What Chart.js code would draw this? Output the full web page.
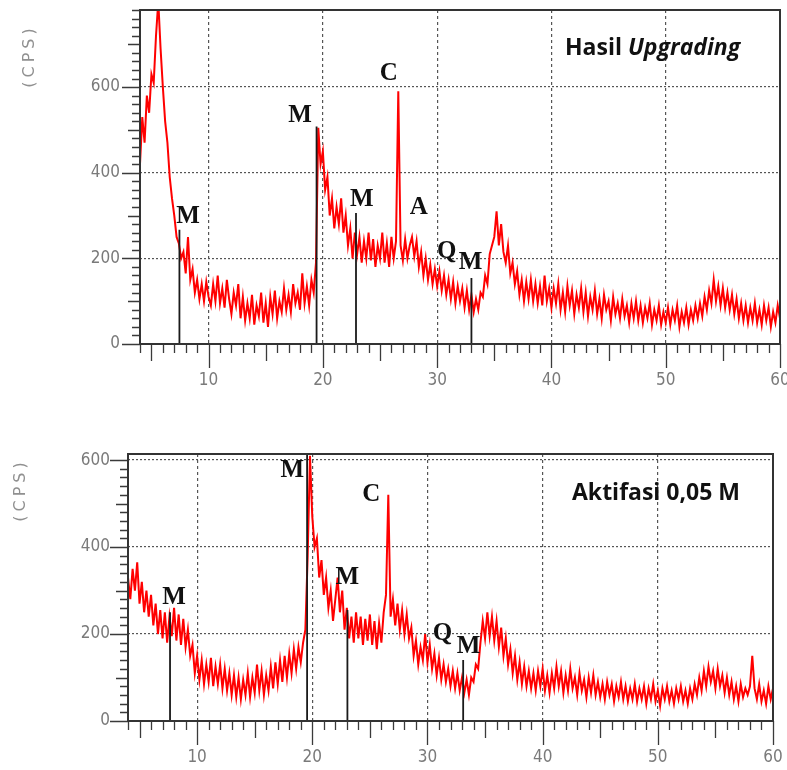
<!DOCTYPE html>
<html>
<head>
<meta charset="utf-8">
<script src="https://cdn.jsdelivr.net/npm/chart.js@4.4.1/dist/chart.umd.min.js"></script>
<style>
  body { margin: 0; background: #fff; }
  canvas { display: block; }
</style>
</head>
<body>
<canvas id="grafikAtas" width="787" height="400"></canvas>
<canvas id="grafikBawah" width="787" height="370"></canvas>
<script>
// sudut 2-theta hasil scan, langkah 0.2 derajat dari 4 sampai 60
const duaTheta = [];
for (let i = 0; i <= 280; i++) duaTheta.push(Math.round((4 + i * 0.2) * 10) / 10);

// intensitas (CPS), 5 titik per derajat
const cpsUpgrading = [
  420, 530, 470, 580, 540,  630, 610, 720, 800, 690,  600, 520, 470, 390, 340,
  300, 250, 235, 200, 215,  165, 250, 150, 175, 120,  150, 105, 140, 100, 145,
  110, 90, 140, 100, 160,   95, 130, 85, 150, 105,    70, 120, 90, 140, 60,
  110, 55, 95, 60, 115,     45, 90, 65, 120, 50,      95, 40, 110, 70, 125,
  60, 100, 75, 130, 80,     115, 75, 140, 95, 120,    80, 165, 95, 135, 90,
  150, 120, 190, 505, 420,  450, 360, 390, 300, 340,  270, 320, 280, 340, 260,
  300, 230, 270, 200, 260,  210, 250, 190, 240, 200,  260, 195, 245, 180, 230,
  200, 260, 190, 235, 180,  250, 200, 240, 590, 230,  195, 245, 200, 230, 250,
  205, 240, 180, 215, 160,  200, 150, 185, 140, 175,  135, 170, 125, 160, 115,
  150, 105, 145, 95, 135,   100, 130, 85, 125, 80,    115, 75, 105, 80, 120,
  110, 160, 140, 210, 230,  250, 310, 230, 280, 215,  190, 230, 165, 190, 140,
  170, 115, 150, 100, 145,  105, 150, 100, 140, 95,   135, 90, 160, 100, 130,
  85, 130, 95, 140, 80,     120, 75, 135, 90, 125,    70, 115, 85, 130, 75,
  120, 65, 110, 80, 125,    70, 105, 60, 115, 80,     100, 55, 110, 70, 95,
  60, 105, 65, 90, 50,      95, 60, 100, 55, 90,      50, 85, 60, 95, 45,
  80, 55, 90, 45, 75,       50, 85, 45, 80, 55,       90, 40, 75, 50, 85,
  45, 80, 55, 90, 60,       95, 65, 110, 80, 125,     95, 150, 100, 135, 90,
  130, 85, 120, 80, 115,    70, 105, 60, 95, 55,      90, 50, 85, 55, 95,
  50, 80, 45, 90, 55,       85, 40, 75, 50, 90,       60
];

const cpsAktifasi = [
  330, 280, 350, 300, 365,  270, 320, 250, 300, 240,  290, 220, 270, 200, 255,
  190, 250, 180, 240, 195,  260, 185, 245, 175, 235,  170, 210, 150, 175, 110,
  150, 95, 140, 85, 130,    90, 145, 80, 125, 85,     130, 75, 120, 70, 110,
  60, 105, 55, 100, 50,     95, 60, 110, 55, 100,     65, 130, 70, 115, 60,
  105, 70, 125, 75, 135,    85, 140, 90, 150, 100,    155, 110, 165, 120, 170,
  135, 180, 210, 380, 610,  470, 400, 420, 330, 370,  290, 330, 260, 300, 230,
  280, 330, 250, 300, 210,  260, 190, 240, 180, 250,  190, 240, 175, 235, 185,
  245, 175, 230, 165, 225,  180, 250, 290, 520, 240,  280, 220, 270, 210, 255,
  200, 245, 190, 215, 150,  185, 130, 170, 140, 200,  135, 175, 120, 155, 105,
  145, 95, 130, 90, 120,    80, 115, 75, 110, 70,     100, 65, 95, 60, 100,
  90, 130, 120, 180, 230,   190, 250, 195, 240, 185,  230, 170, 215, 150, 190,
  130, 165, 110, 150, 95,   135, 85, 125, 80, 115,    75, 110, 70, 115, 80,
  120, 70, 105, 65, 110,    75, 125, 80, 115, 65,     105, 70, 120, 75, 100,
  60, 110, 70, 95, 55,      100, 65, 105, 60, 90,     55, 85, 50, 90, 60,
  85, 45, 80, 55, 90,       50, 80, 45, 75, 50,       85, 45, 75, 50, 80,
  40, 75, 50, 85, 45,       70, 35, 75, 50, 80,       45, 70, 40, 75, 50,
  80, 45, 70, 40, 75,       50, 85, 60, 100, 70,      115, 80, 125, 90, 115,
  75, 120, 80, 105, 65,     100, 60, 90, 50, 80,      45, 85, 55, 75, 60,
  80, 150, 75, 50, 85,      45, 70, 40, 80, 50,       75
];

// garis referensi fasa (posisi 2-theta dan tinggi)
const garisUpgrading = [7.45, 19.45, 22.9, 33.0];
const tinggiUpgrading = [267, 508, 306, 154];
const garisAktifasi = [7.65, 19.55, 23.05, 33.1];
const tinggiAktifasi = [250, 614, 255, 140];

// label fasa dan titik tempatnya (2-theta, CPS)
const labelUpgrading = ["M", "M", "C", "M", "A", "Q", "M"];
const tempatUpgrading = [[8.2, 297], [18.0, 534], [25.77, 632], [23.41, 337], [28.39, 318], [30.84, 215], [32.93, 190]];
const labelAktifasi = ["M", "M", "C", "M", "Q", "M"];
const tempatAktifasi = [[8.0, 285], [18.26, 575], [25.13, 520], [23.04, 331], [31.3, 202], [33.57, 172]];

const labelSumbuX = [10, 20, 30, 40, 50, 60];
const labelSumbuY = [0, 200, 400, 600];

const fontAngka = { family: '"Liberation Sans Narrow", "DejaVu Sans Condensed", sans-serif', size: 17 };

const hiasanXrd = {
  id: "hiasanXrd",
  afterDraw(chart, args, opt) {
    const { ctx, chartArea: a } = chart;
    const sx = chart.scales.x;
    const sy = chart.scales.y;
    ctx.save();

    // tanda tick
    ctx.strokeStyle = "#3a3a3a";
    ctx.lineWidth = 1.3;
    ctx.beginPath();
    sx.ticks.forEach((t) => {
      const v = t.value;
      const p = Math.round(sx.getPixelForValue(v)) + 0.5;
      const pjg = v % 10 === 0 ? 24 : v % 5 === 0 ? 17 : 9;
      ctx.moveTo(p, a.bottom);
      ctx.lineTo(p, a.bottom + pjg);
    });
    sy.ticks.forEach((t) => {
      const v = t.value;
      if (v % 20 !== 0) return;
      const p = Math.round(sy.getPixelForValue(v)) + 0.5;
      const pjg = v % 200 === 0 ? 18 : v % 100 === 0 ? 12 : 8;
      ctx.moveTo(a.left, p);
      ctx.lineTo(a.left - pjg, p);
    });
    ctx.stroke();

    // bingkai
    ctx.lineWidth = 2;
    ctx.strokeStyle = "#333";
    ctx.strokeRect(a.left, a.top, a.right - a.left, a.bottom - a.top);

    // label fasa
    ctx.fillStyle = "#111";
    ctx.font = 'bold 25px "Liberation Serif", serif';
    ctx.textAlign = "center";
    ctx.textBaseline = "middle";
    opt.label.forEach((teks, i) => {
      const [gx, gy] = opt.tempat[i];
      ctx.fillText(teks, sx.getPixelForValue(gx), sy.getPixelForValue(gy));
    });

    // judul
    ctx.textAlign = "left";
    ctx.textBaseline = "alphabetic";
    let xj = opt.judulX;
    opt.judul.forEach((bagian) => {
      ctx.font = bagian.gaya + ' 23px "Open Sans", sans-serif';
      ctx.fillText(bagian.teks, xj, opt.judulY);
      xj += ctx.measureText(bagian.teks).width;
    });

    // satuan sumbu y
    ctx.translate(opt.cps[0], opt.cps[1]);
    ctx.rotate(-Math.PI / 2);
    ctx.font = '16px "DejaVu Sans", sans-serif';
    ctx.fillStyle = "#909090";
    ctx.letterSpacing = "4px";
    ctx.textAlign = "center";
    ctx.textBaseline = "middle";
    ctx.fillText("(CPS)", 0, 0);
    ctx.restore();
  },
};

function buatConfig(nilai, garis, tinggi, yMax, lebarY, tinggiX, padding, jarakY, hiasan) {
  const titik = duaTheta.map((t, i) => ({ x: t, y: nilai[i] }));
  const batang = [];
  garis.forEach((g, i) => {
    batang.push({ x: g, y: 0 }, { x: g, y: tinggi[i] }, { x: g, y: null });
  });

  return {
    type: "line",
    data: {
      datasets: [
        { data: batang, borderColor: "#1a1a1a", borderWidth: 1.8, pointRadius: 0, spanGaps: false },
        { data: titik, borderColor: "#ff0000", borderWidth: 2.0, pointRadius: 0 },
      ],
    },
    options: {
      responsive: false,
      animation: false,
      events: [],
      layout: { padding: padding },
      plugins: {
        legend: { display: false },
        tooltip: { enabled: false },
        hiasanXrd: hiasan,
      },
      scales: {
        x: {
          type: "linear",
          min: 4,
          max: 60,
          afterFit: (s) => {
            s.height = tinggiX;
            s.paddingLeft = 0;
            s.paddingRight = 0;
          },
          ticks: {
            stepSize: 1,
            autoSkip: false,
            maxRotation: 0,
            padding: 26,
            color: "#7a7a7a",
            font: fontAngka,
            callback: (v) => (labelSumbuX.includes(v) ? v : ""),
          },
          grid: {
            drawTicks: false,
            lineWidth: 1.2,
            color: (c) => (c.tick && c.tick.value % 10 === 0 && c.tick.value > 4 && c.tick.value < 60 ? "#555" : "rgba(0,0,0,0)"),
          },
          border: { display: false, dash: [3, 3] },
        },
        y: {
          min: 0,
          max: yMax,
          afterFit: (s) => {
            s.width = lebarY;
            s.paddingTop = 0;
            s.paddingBottom = 0;
          },
          ticks: {
            stepSize: 20,
            includeBounds: false,
            autoSkip: false,
            padding: jarakY,
            color: "#7a7a7a",
            font: fontAngka,
            callback: (v) => (labelSumbuY.includes(v) ? v : ""),
          },
          grid: {
            drawTicks: false,
            lineWidth: 1.2,
            color: (c) => (c.tick && c.tick.value % 200 === 0 && c.tick.value > 0 && c.tick.value < yMax ? "#555" : "rgba(0,0,0,0)"),
          },
          border: { display: false, dash: [2, 2] },
        },
      },
    },
    plugins: [hiasanXrd],
  };
}

new Chart(
  document.getElementById("grafikAtas"),
  buatConfig(cpsUpgrading, garisUpgrading, tinggiUpgrading, 780, 140, 56,
    { top: 10, right: 7, left: 0, bottom: 0 }, 20,
    {
      label: labelUpgrading,
      tempat: tempatUpgrading,
      judul: [{ teks: "Hasil ", gaya: "bold" }, { teks: "Upgrading", gaya: "italic bold" }],
      judulX: 565,
      judulY: 55,
      cps: [30, 56],
    })
);

new Chart(
  document.getElementById("grafikBawah"),
  buatConfig(cpsAktifasi, garisAktifasi, tinggiAktifasi, 614, 128, 49,
    { top: 54, right: 14, left: 0, bottom: 0 }, 18,
    {
      label: labelAktifasi,
      tempat: tempatAktifasi,
      judul: [{ teks: "Aktifasi 0,05 M", gaya: "bold" }],
      judulX: 572,
      judulY: 100,
      cps: [21, 90],
    })
);
</script>
</body>
</html>
